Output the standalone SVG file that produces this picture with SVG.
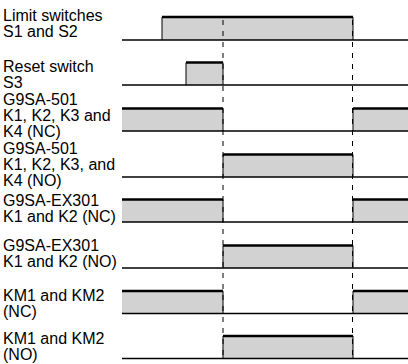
<svg xmlns="http://www.w3.org/2000/svg" width="408" height="364" viewBox="0 0 408 364">
<style>
.lbl{font-family:"Liberation Sans",Arial,sans-serif;font-size:16px;fill:#000}
.fill{fill:#d2d2d2;stroke:none}
.base{stroke:#000;stroke-width:1.4;fill:none}
.top{stroke:#000;stroke-width:2.4;fill:none}
.edge{stroke:#000;stroke-width:1;fill:none}
.dash{stroke:#000;stroke-width:1;stroke-dasharray:5 6;fill:none}
</style>
<rect width="408" height="364" fill="#fff"/>

<g id="fills">
<rect class="fill" x="162" y="17" width="191" height="23"/>
<rect class="fill" x="186" y="62.5" width="37" height="22.5"/>
<rect class="fill" x="122" y="108.5" width="101" height="22.5"/>
<rect class="fill" x="353" y="108.5" width="55" height="22.5"/>
<rect class="fill" x="223" y="154.5" width="130" height="22.5"/>
<rect class="fill" x="122" y="199.5" width="101" height="22.5"/>
<rect class="fill" x="353" y="199.5" width="55" height="22.5"/>
<rect class="fill" x="223" y="245.5" width="130" height="22.5"/>
<rect class="fill" x="122" y="291" width="101" height="22.5"/>
<rect class="fill" x="353" y="291" width="55" height="22.5"/>
<rect class="fill" x="223" y="336" width="130" height="22.5"/>
</g>

<g id="connectors">
<path class="dash" d="M223 20 V358"/>
<path class="dash" d="M352.5 20 V358"/>
</g>

<g id="row-limit">
<text class="lbl" x="3" y="21">Limit switches</text>
<text class="lbl" x="3" y="37">S1 and S2</text>
<path class="base" d="M122 40 H408"/>
<path class="edge" d="M162 17 V40 M353 17 V40"/>
<path class="top" d="M162 17 H353"/>
</g>

<g id="row-reset">
<text class="lbl" x="3" y="72">Reset switch</text>
<text class="lbl" x="3" y="88">S3</text>
<path class="base" d="M122 85 H408"/>
<path class="edge" d="M186 62.5 V85 M223 62.5 V85"/>
<path class="top" d="M186 62.5 H223"/>
</g>

<g id="row-501-nc">
<text class="lbl" x="3" y="105">G9SA-501</text>
<text class="lbl" x="3" y="121">K1, K2, K3 and</text>
<text class="lbl" x="3" y="137">K4 (NC)</text>
<path class="base" d="M122 131 H408"/>
<path class="edge" d="M223 108.5 V131 M353 108.5 V131"/>
<path class="top" d="M122 108.5 H223 M353 108.5 H408"/>
</g>

<g id="row-501-no">
<text class="lbl" x="3" y="154">G9SA-501</text>
<text class="lbl" x="3" y="170">K1, K2, K3, and</text>
<text class="lbl" x="3" y="186">K4 (NO)</text>
<path class="base" d="M122 177 H408"/>
<path class="edge" d="M223 154.5 V177 M353 154.5 V177"/>
<path class="top" d="M223 154.5 H353"/>
</g>

<g id="row-ex301-nc">
<text class="lbl" x="3" y="206">G9SA-EX301</text>
<text class="lbl" x="3" y="222">K1 and K2 (NC)</text>
<path class="base" d="M122 222 H408"/>
<path class="edge" d="M223 199.5 V222 M353 199.5 V222"/>
<path class="top" d="M122 199.5 H223 M353 199.5 H408"/>
</g>

<g id="row-ex301-no">
<text class="lbl" x="3" y="251">G9SA-EX301</text>
<text class="lbl" x="3" y="267">K1 and K2 (NO)</text>
<path class="base" d="M122 268 H408"/>
<path class="edge" d="M223 245.5 V268 M353 245.5 V268"/>
<path class="top" d="M223 245.5 H353"/>
</g>

<g id="row-km-nc">
<text class="lbl" x="3" y="301">KM1 and KM2</text>
<text class="lbl" x="3" y="317">(NC)</text>
<path class="base" d="M122 313.5 H408"/>
<path class="edge" d="M223 291 V313.5 M353 291 V313.5"/>
<path class="top" d="M122 291 H223 M353 291 H408"/>
</g>

<g id="row-km-no">
<text class="lbl" x="3" y="344">KM1 and KM2</text>
<text class="lbl" x="3" y="360">(NO)</text>
<path class="base" d="M122 358.5 H408"/>
<path class="edge" d="M223 336 V358.5 M353 336 V358.5"/>
<path class="top" d="M223 336 H353"/>
</g>
</svg>
